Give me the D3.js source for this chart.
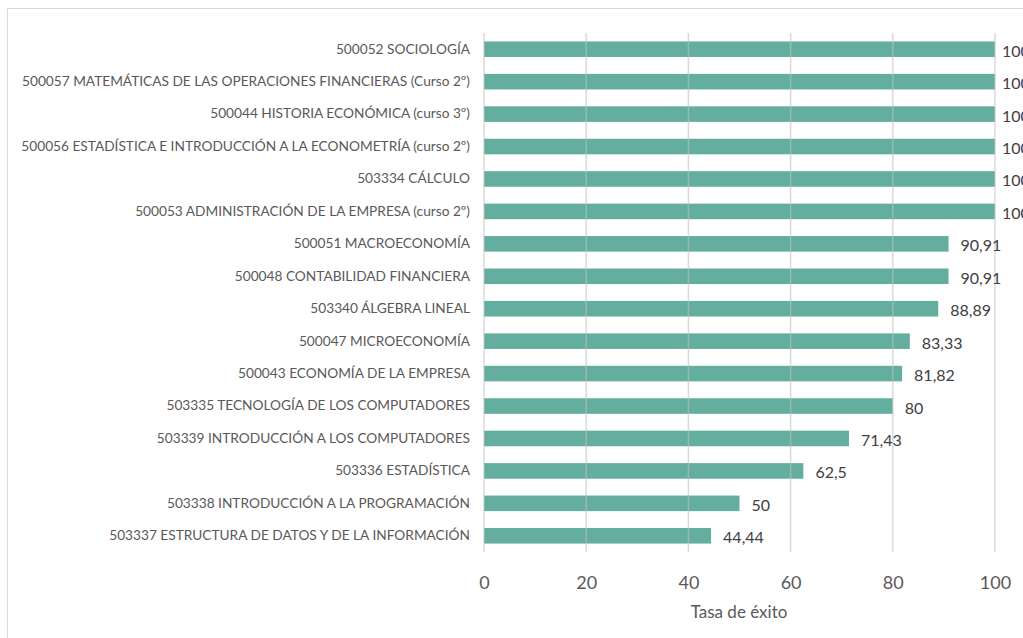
<html lang="en">
<head>
    <meta charset="UTF-8">
    <title>Tasa de éxito</title>
    <script src="https://cdnjs.cloudflare.com/ajax/libs/d3/7.8.5/d3.min.js"></script>
    <style type="text/css">
        body { margin: 0; background: #fff; }
        * { font-family: Lato, "Open Sans", sans-serif; }
    </style>
</head>
<body>
    <div id="onlydiv"></div>
    <script type="text/javascript">

        // Data (top to bottom)
        var subjects = [
            "500052 SOCIOLOGÍA",
            "500057 MATEMÁTICAS DE LAS OPERACIONES FINANCIERAS (Curso 2º)",
            "500044 HISTORIA ECONÓMICA (curso 3º)",
            "500056 ESTADÍSTICA E INTRODUCCIÓN A LA ECONOMETRÍA (curso 2º)",
            "503334 CÁLCULO",
            "500053 ADMINISTRACIÓN DE LA EMPRESA (curso 2º)",
            "500051 MACROECONOMÍA",
            "500048 CONTABILIDAD FINANCIERA",
            "503340 ÁLGEBRA LINEAL",
            "500047 MICROECONOMÍA",
            "500043 ECONOMÍA DE LA EMPRESA",
            "503335 TECNOLOGÍA DE LOS COMPUTADORES",
            "503339 INTRODUCCIÓN A LOS COMPUTADORES",
            "503336 ESTADÍSTICA",
            "503338 INTRODUCCIÓN A LA PROGRAMACIÓN",
            "503337 ESTRUCTURA DE DATOS Y DE LA INFORMACIÓN"
        ];
        var rates = [100, 100, 100, 100, 100, 100, 90.91, 90.91, 88.89, 83.33, 81.82, 80, 71.43, 62.5, 50, 44.44];
        var xTicks = [0, 20, 40, 60, 80, 100];

        var w = 1023;
        var h = 638;
        var plotLeft = 484, plotRight = 995, plotTop = 33, plotBottom = 552;

        var svg = d3.select("#onlydiv")
            .append("svg")
            .attr("width", w)
            .attr("height", h);

        // chart border
        svg.append("rect")
            .attr("x", 7.5).attr("y", 8.5)
            .attr("width", 1040).attr("height", 660)
            .attr("fill", "none")
            .attr("stroke", "#d9d9d9");

        var xScale = d3.scaleLinear().domain([0, 100]).range([plotLeft, plotRight]);
        var yScale = d3.scaleBand().domain(subjects).range([plotTop, plotBottom]).paddingInner(0.52).paddingOuter(0.26);

        // Bars
        svg.selectAll("rect.bar")
            .data(rates)
            .enter()
            .append("rect")
            .attr("class", "bar")
            .attr("x", xScale(0))
            .attr("y", function(d, i) { return yScale(subjects[i]); })
            .attr("width", function(d) { return xScale(d) - xScale(0); })
            .attr("height", yScale.bandwidth())
            .attr("fill", "#63ae9f");

        // Gridlines (drawn over the bars, faint)
        svg.selectAll("line.grid")
            .data(xTicks)
            .enter()
            .append("line")
            .attr("class", "grid")
            .attr("x1", function(d) { return xScale(d); })
            .attr("x2", function(d) { return xScale(d); })
            .attr("y1", plotTop)
            .attr("y2", plotBottom)
            .attr("stroke", "#bfbfbf")
            .attr("stroke-opacity", 0.6)
            .attr("stroke-width", 1.5);

        // X axis labels
        var xAxis = d3.axisBottom(xScale).tickValues(xTicks).tickSize(0).tickPadding(0);
        var gx = svg.append("g")
            .attr("transform", "translate(0," + 576 + ")")
            .call(xAxis);
        gx.select(".domain").remove();
        gx.selectAll("text")
            .attr("font-size", "18px")
            .attr("fill", "#595959")
            .style("font-family", "Lato, sans-serif");

        // Category labels
        var yAxis = d3.axisLeft(yScale).tickSize(0).tickPadding(14);
        var gy = svg.append("g")
            .attr("transform", "translate(" + plotLeft + ",0)")
            .call(yAxis);
        gy.select(".domain").remove();
        gy.selectAll("text")
            .attr("font-size", "13.7px")
            .attr("fill", "#595959")
            .style("font-family", "Lato, sans-serif");

        // Value labels
        svg.selectAll("text.val")
            .data(rates)
            .enter()
            .append("text")
            .attr("class", "val")
            .attr("x", function(d) { return xScale(d) + (d >= 100 ? 7 : 12); })
            .attr("y", function(d, i) { return yScale(subjects[i]) + yScale.bandwidth() / 2 + 7.5; })
            .attr("font-size", "16px")
            .attr("fill", "#404040")
            .text(function(d) { return String(d).replace(".", ","); });

        // Axis title
        svg.append("text")
            .attr("x", 739)
            .attr("y", 618)
            .attr("text-anchor", "middle")
            .attr("font-size", "17px")
            .attr("fill", "#595959")
            .text("Tasa de éxito");

    </script>
</body>
</html>
